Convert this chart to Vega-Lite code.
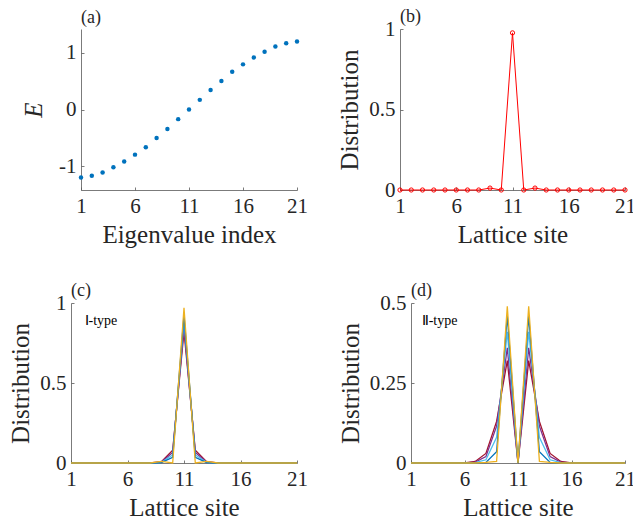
{
  "$schema": "https://vega.github.io/schema/vega-lite/v6.json",
  "background": "white",
  "padding": {"left": 8, "top": 8, "right": 0, "bottom": 0},
  "bounds": "flush",
  "columns": 2,
  "spacing": {"row": 113, "column": 103},
  "datasets": {
    "eig": [
      {"idx": 1, "E": -1.2}, {"idx": 2, "E": -1.17}, {"idx": 3, "E": -1.11}, {"idx": 4, "E": -1.018},
      {"idx": 5, "E": -0.918}, {"idx": 6, "E": -0.796}, {"idx": 7, "E": -0.666}, {"idx": 8, "E": -0.502},
      {"idx": 9, "E": -0.345}, {"idx": 10, "E": -0.17}, {"idx": 11, "E": 0}, {"idx": 12, "E": 0.17},
      {"idx": 13, "E": 0.345}, {"idx": 14, "E": 0.502}, {"idx": 15, "E": 0.666}, {"idx": 16, "E": 0.796},
      {"idx": 17, "E": 0.918}, {"idx": 18, "E": 1.018}, {"idx": 19, "E": 1.11}, {"idx": 20, "E": 1.17},
      {"idx": 21, "E": 1.2}
    ],
    "distb": [
      {"site": 1, "p": 0}, {"site": 2, "p": 0}, {"site": 3, "p": 0}, {"site": 4, "p": 0}, {"site": 5, "p": 0},
      {"site": 6, "p": 0}, {"site": 7, "p": 0}, {"site": 8, "p": 0}, {"site": 9, "p": 0.012}, {"site": 10, "p": 0},
      {"site": 11, "p": 0.976}, {"site": 12, "p": 0}, {"site": 13, "p": 0.012}, {"site": 14, "p": 0}, {"site": 15, "p": 0},
      {"site": 16, "p": 0}, {"site": 17, "p": 0}, {"site": 18, "p": 0}, {"site": 19, "p": 0}, {"site": 20, "p": 0},
      {"site": 21, "p": 0}
    ],
    "typeI": [
      {"site": 1, "r1": 0, "r2": 0, "r3": 0, "r4": 0, "r5": 0},
      {"site": 2, "r1": 0, "r2": 0, "r3": 0, "r4": 0, "r5": 0},
      {"site": 3, "r1": 0, "r2": 0, "r3": 0, "r4": 0, "r5": 0},
      {"site": 4, "r1": 0, "r2": 0, "r3": 0, "r4": 0, "r5": 0},
      {"site": 5, "r1": 0, "r2": 0, "r3": 0, "r4": 0, "r5": 0},
      {"site": 6, "r1": 0, "r2": 0, "r3": 0, "r4": 0, "r5": 0},
      {"site": 7, "r1": 0, "r2": 0, "r3": 0, "r4": 0, "r5": 0},
      {"site": 8, "r1": 0.001, "r2": 0, "r3": 0, "r4": 0, "r5": 0},
      {"site": 9, "r1": 0.008, "r2": 0.006, "r3": 0.004, "r4": 0.002, "r5": 0.01},
      {"site": 10, "r1": 0.08, "r2": 0.066, "r3": 0.05, "r4": 0.035, "r5": 0},
      {"site": 11, "r1": 0.822, "r2": 0.856, "r3": 0.892, "r4": 0.926, "r5": 0.97},
      {"site": 12, "r1": 0.08, "r2": 0.066, "r3": 0.05, "r4": 0.035, "r5": 0},
      {"site": 13, "r1": 0.008, "r2": 0.006, "r3": 0.004, "r4": 0.002, "r5": 0.01},
      {"site": 14, "r1": 0.001, "r2": 0, "r3": 0, "r4": 0, "r5": 0},
      {"site": 15, "r1": 0, "r2": 0, "r3": 0, "r4": 0, "r5": 0},
      {"site": 16, "r1": 0, "r2": 0, "r3": 0, "r4": 0, "r5": 0},
      {"site": 17, "r1": 0, "r2": 0, "r3": 0, "r4": 0, "r5": 0},
      {"site": 18, "r1": 0, "r2": 0, "r3": 0, "r4": 0, "r5": 0},
      {"site": 19, "r1": 0, "r2": 0, "r3": 0, "r4": 0, "r5": 0},
      {"site": 20, "r1": 0, "r2": 0, "r3": 0, "r4": 0, "r5": 0},
      {"site": 21, "r1": 0, "r2": 0, "r3": 0, "r4": 0, "r5": 0}
    ],
    "typeII": [
      {"site": 1, "r1": 0, "r2": 0, "r3": 0, "r4": 0, "r5": 0},
      {"site": 2, "r1": 0, "r2": 0, "r3": 0, "r4": 0, "r5": 0},
      {"site": 3, "r1": 0, "r2": 0, "r3": 0, "r4": 0, "r5": 0},
      {"site": 4, "r1": 0, "r2": 0, "r3": 0, "r4": 0, "r5": 0},
      {"site": 5, "r1": 0, "r2": 0, "r3": 0, "r4": 0, "r5": 0},
      {"site": 6, "r1": 0, "r2": 0, "r3": 0, "r4": 0, "r5": 0},
      {"site": 7, "r1": 0.005, "r2": 0.003, "r3": 0.001, "r4": 0, "r5": 0},
      {"site": 8, "r1": 0.03, "r2": 0.02, "r3": 0.01, "r4": 0.002, "r5": 0.002},
      {"site": 9, "r1": 0.13, "r2": 0.115, "r3": 0.08, "r4": 0.035, "r5": 0.005},
      {"site": 10, "r1": 0.32, "r2": 0.36, "r3": 0.41, "r4": 0.46, "r5": 0.49},
      {"site": 11, "r1": 0, "r2": 0, "r3": 0, "r4": 0, "r5": 0},
      {"site": 12, "r1": 0.32, "r2": 0.36, "r3": 0.41, "r4": 0.46, "r5": 0.49},
      {"site": 13, "r1": 0.13, "r2": 0.115, "r3": 0.08, "r4": 0.035, "r5": 0.005},
      {"site": 14, "r1": 0.03, "r2": 0.02, "r3": 0.01, "r4": 0.002, "r5": 0.002},
      {"site": 15, "r1": 0.005, "r2": 0.003, "r3": 0.001, "r4": 0, "r5": 0},
      {"site": 16, "r1": 0, "r2": 0, "r3": 0, "r4": 0, "r5": 0},
      {"site": 17, "r1": 0, "r2": 0, "r3": 0, "r4": 0, "r5": 0},
      {"site": 18, "r1": 0, "r2": 0, "r3": 0, "r4": 0, "r5": 0},
      {"site": 19, "r1": 0, "r2": 0, "r3": 0, "r4": 0, "r5": 0},
      {"site": 20, "r1": 0, "r2": 0, "r3": 0, "r4": 0, "r5": 0},
      {"site": 21, "r1": 0, "r2": 0, "r3": 0, "r4": 0, "r5": 0}
    ]
  },
  "concat": [
    {
      "width": 226, "height": 161,
      "title": {"text": "(a)", "dx": 10},
      "layer": [
        {
          "mark": {"type": "rect", "filled": false, "stroke": "#595959", "strokeWidth": 0.8},
          "encoding": {
            "x": {"datum": 1, "type": "quantitative", "scale": {"domain": [1, 21], "range": [10, 226]},
                  "axis": {"values": [1, 6, 11, 16, 21], "title": "Eigenvalue index"}},
            "x2": {"datum": 21},
            "y": {"datum": -1.42, "type": "quantitative", "scale": {"domain": [-1.42, 1.42]},
                  "axis": {"values": [-1, 0, 1], "title": "E", "titleFontStyle": "italic", "offset": -10, "titlePadding": 12}},
            "y2": {"datum": 1.42}
          }
        },
        {
          "mark": {"type": "rule", "stroke": "#ff0000", "strokeWidth": 1},
          "encoding": {
            "x": {"datum": 1, "type": "quantitative", "scale": {"domain": [1, 21], "range": [10, 226]}},
            "x2": {"datum": 21},
            "y": {"datum": 0, "type": "quantitative", "scale": {"domain": [-1.42, 1.42]}}
          }
        },
        {
          "data": {"name": "eig"},
          "mark": {"type": "circle", "size": 20, "color": "#0072bd", "opacity": 1},
          "encoding": {
            "x": {"field": "idx", "type": "quantitative", "scale": {"domain": [1, 21], "range": [10, 226]}},
            "y": {"field": "E", "type": "quantitative", "scale": {"domain": [-1.42, 1.42]}}
          }
        }
      ]
    },
    {
      "width": 225, "height": 161,
      "title": {"text": "(b)", "offset": -8},
      "layer": [
        {
          "mark": {"type": "rect", "filled": false, "stroke": "#595959", "strokeWidth": 0.8},
          "encoding": {
            "x": {"datum": 1, "type": "quantitative", "scale": {"domain": [1, 21]},
                  "axis": {"values": [1, 6, 11, 16, 21], "title": "Lattice site"}},
            "x2": {"datum": 21},
            "y": {"datum": 0, "type": "quantitative", "scale": {"domain": [0, 1]},
                  "axis": {"values": [0, 0.5, 1], "title": "Distribution"}},
            "y2": {"datum": 1}
          }
        },
        {
          "data": {"name": "distb"},
          "mark": {"type": "line", "color": "#ff0000", "strokeWidth": 1},
          "encoding": {
            "x": {"field": "site", "type": "quantitative", "scale": {"domain": [1, 21]}},
            "y": {"field": "p", "type": "quantitative", "scale": {"domain": [0, 1]}}
          }
        },
        {
          "data": {"name": "distb"},
          "mark": {"type": "point", "shape": "circle", "filled": false, "color": "#ff0000", "size": 18, "strokeWidth": 1, "opacity": 1},
          "encoding": {
            "x": {"field": "site", "type": "quantitative", "scale": {"domain": [1, 21]}},
            "y": {"field": "p", "type": "quantitative", "scale": {"domain": [0, 1]}}
          }
        }
      ]
    },
    {
      "width": 226, "height": 160,
      "title": {"text": "(c)", "offset": -8},
      "layer": [
        {
          "mark": {"type": "rect", "filled": false, "stroke": "#595959", "strokeWidth": 0.8},
          "encoding": {
            "x": {"datum": 1, "type": "quantitative", "scale": {"domain": [1, 21]},
                  "axis": {"values": [1, 6, 11, 16, 21], "title": "Lattice site"}},
            "x2": {"datum": 21},
            "y": {"datum": 0, "type": "quantitative", "scale": {"domain": [0, 1]},
                  "axis": {"values": [0, 0.5, 1], "title": "Distribution"}},
            "y2": {"datum": 1}
          }
        },
        {
          "data": {"name": "typeI"},
          "transform": [{"fold": ["r1", "r2", "r3", "r4", "r5"], "as": ["run", "p"]}],
          "mark": {"type": "line", "strokeWidth": 1.3},
          "encoding": {
            "x": {"field": "site", "type": "quantitative", "scale": {"domain": [1, 21]}},
            "y": {"field": "p", "type": "quantitative", "scale": {"domain": [0, 1]}},
            "color": {"field": "run", "type": "nominal", "legend": null,
                      "scale": {"domain": ["r1", "r2", "r3", "r4", "r5"], "range": ["#a2142f", "#7e2f8e", "#4dbeee", "#0072bd", "#edb120"]}}
          }
        },
        {
          "data": {"values": [{"x": 2.2, "y": 0.89, "label": "Ⅰ-type"}]},
          "mark": {"type": "text", "align": "left", "baseline": "middle", "fontSize": 14, "font": "Liberation Serif", "color": "#000000"},
          "encoding": {
            "x": {"field": "x", "type": "quantitative", "scale": {"domain": [1, 21]}},
            "y": {"field": "y", "type": "quantitative", "scale": {"domain": [0, 1]}},
            "text": {"field": "label"}
          }
        }
      ]
    },
    {
      "width": 225, "height": 160,
      "title": {"text": "(d)", "dx": 11, "offset": -8},
      "layer": [
        {
          "mark": {"type": "rect", "filled": false, "stroke": "#595959", "strokeWidth": 0.8},
          "encoding": {
            "x": {"datum": 1, "type": "quantitative", "scale": {"domain": [1, 21], "range": [11, 225]},
                  "axis": {"values": [1, 6, 11, 16, 21], "title": "Lattice site"}},
            "x2": {"datum": 21},
            "y": {"datum": 0, "type": "quantitative", "scale": {"domain": [0, 0.5]},
                  "axis": {"values": [0, 0.25, 0.5], "title": "Distribution", "offset": -11}},
            "y2": {"datum": 0.5}
          }
        },
        {
          "data": {"name": "typeII"},
          "transform": [{"fold": ["r1", "r2", "r3", "r4", "r5"], "as": ["run", "p"]}],
          "mark": {"type": "line", "strokeWidth": 1.3},
          "encoding": {
            "x": {"field": "site", "type": "quantitative", "scale": {"domain": [1, 21], "range": [11, 225]}},
            "y": {"field": "p", "type": "quantitative", "scale": {"domain": [0, 0.5]}},
            "color": {"field": "run", "type": "nominal", "legend": null,
                      "scale": {"domain": ["r1", "r2", "r3", "r4", "r5"], "range": ["#a2142f", "#7e2f8e", "#4dbeee", "#0072bd", "#edb120"]}}
          }
        },
        {
          "data": {"values": [{"x": 2.0, "y": 0.445, "label": "Ⅱ-type"}]},
          "mark": {"type": "text", "align": "left", "baseline": "middle", "fontSize": 14, "font": "Liberation Serif", "color": "#000000"},
          "encoding": {
            "x": {"field": "x", "type": "quantitative", "scale": {"domain": [1, 21], "range": [11, 225]}},
            "y": {"field": "y", "type": "quantitative", "scale": {"domain": [0, 0.5]}},
            "text": {"field": "label"}
          }
        }
      ]
    }
  ],
  "config": {
    "view": {"stroke": null},
    "font": "Liberation Serif",
    "axis": {
      "grid": false,
      "domainColor": "#595959", "domainWidth": 0.8,
      "tickColor": "#595959", "tickWidth": 0.8, "tickSize": -3,
      "labelFont": "Liberation Serif", "labelFontSize": 21, "labelColor": "#262626",
      "labelFlush": false, "labelOverlap": false, "labelPadding": 8,
      "labelExpr": "datum.value < 0 ? '-' + abs(datum.value) : '' + datum.value",
      "titleFont": "Liberation Serif", "titleFontSize": 25, "titleFontWeight": "normal", "titleColor": "#262626",
      "titlePadding": 6
    },
    "title": {"font": "Liberation Serif", "fontSize": 18, "fontWeight": "normal", "anchor": "start", "frame": "group", "color": "#262626", "offset": 2}
  }
}
